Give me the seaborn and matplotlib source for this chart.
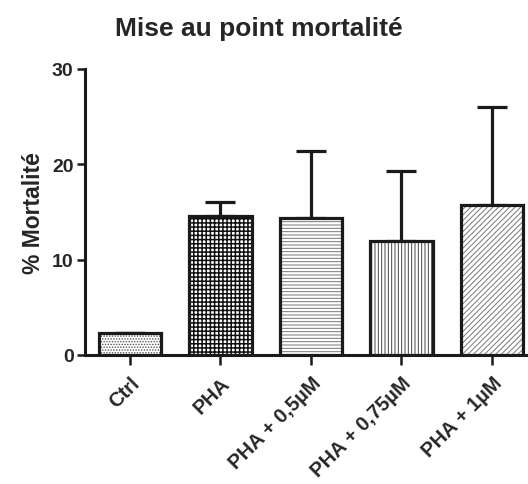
import numpy as np
import pandas as pd
import matplotlib
matplotlib.use("Agg")
import matplotlib.pyplot as plt
import seaborn as sns

# Mortality per condition (mean and SD, %)
conditions = ["Ctrl", "PHA", "PHA + 0,5µM", "PHA + 0,75µM", "PHA + 1µM"]
mortality_mean = [2.3, 14.6, 14.35, 11.9, 15.75]
mortality_sd = [0.0, 1.45, 7.05, 7.35, 10.2]
y_ticks = [0, 10, 20, 30]

hatches = ["......", "++++", "-----", "|||||", "//////"]
hatch_colors = ["#555555", "#111111", "#777777", "#444444", "#777777"]
hatch_widths = [0.7, 1.1, 0.7, 0.7, 0.7]

sns.set_theme(style="white")
plt.rcParams["font.family"] = ["Liberation Sans", "DejaVu Sans"]
plt.rcParams["font.weight"] = "bold"

df = pd.DataFrame({"condition": conditions, "mortality": mortality_mean})

fig = plt.figure(figsize=(5.28, 4.85), dpi=100)
ax = fig.add_axes([0.1604, 0.266, 0.84, 0.590])

sns.barplot(data=df, x="condition", y="mortality", ax=ax, color="white",
            width=0.69, errorbar=None, edgecolor="#1a1a1a", linewidth=2.3,
            zorder=3)

for patch, h, hc, hw in zip(ax.patches, hatches, hatch_colors, hatch_widths):
    patch.set_hatch(h)
    patch.set_hatch_linewidth(hw)
    patch._hatch_color = matplotlib.colors.to_rgba(hc)

x_pos = np.arange(len(conditions))
ax.errorbar(x_pos, mortality_mean,
            yerr=[np.zeros(len(mortality_sd)), mortality_sd],
            fmt="none", ecolor="#1a1a1a", elinewidth=2.3, capsize=11,
            capthick=2.3, zorder=2)

ax.set_xlim(-0.5, 4.4)
ax.set_ylim(0, 30)
ax.set_yticks(y_ticks)
ax.set_yticklabels([str(v) for v in y_ticks], fontsize=14, fontweight="bold")
ax.set_xticks(x_pos)
ax.set_xticklabels(conditions, rotation=45, ha="right", rotation_mode="anchor",
                   fontsize=14.5, fontweight="bold")

for side in ["top", "right"]:
    ax.spines[side].set_visible(False)
for side in ["left", "bottom"]:
    ax.spines[side].set_linewidth(2.2)
    ax.spines[side].set_color("#1a1a1a")

ax.tick_params(axis="y", which="major", direction="out", length=6, width=1.8,
               color="#1a1a1a", left=True, pad=2)
ax.tick_params(axis="x", which="major", direction="out", length=7, width=1.8,
               color="#1a1a1a", bottom=True, pad=6)

ax.set_xlabel("")
ax.set_ylabel("% Mortalité", fontsize=16.5, fontweight="bold", labelpad=5)
fig.text(0.49, 0.94, "Mise au point mortalité", ha="center", va="center",
         fontsize=19, fontweight="bold")

fig.savefig("out.png", dpi=100, facecolor="white")
